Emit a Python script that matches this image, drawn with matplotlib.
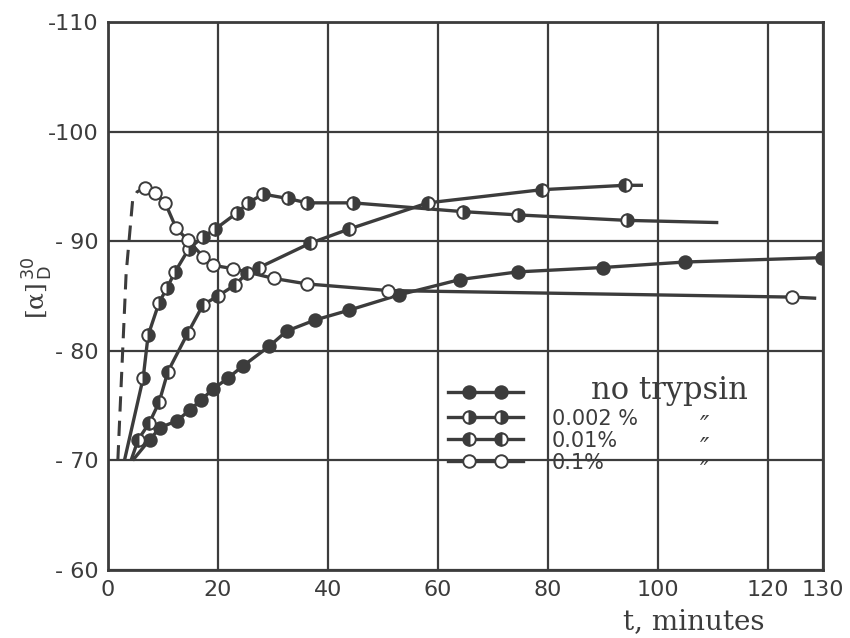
import matplotlib
matplotlib.use("Agg")
import matplotlib.pyplot as plt
from matplotlib.lines import Line2D
from matplotlib.legend_handler import HandlerLine2D, HandlerTuple

# ---- data (t in minutes, rotation magnitude in degrees, negative) ----
t_none = [4.5, 7.6, 9.5, 12.5, 14.9, 16.9, 19.1, 21.8, 24.5, 29.3, 32.5, 37.6, 43.8,
          52.9, 64.0, 74.5, 90.0, 104.9, 129.8]
a_none = [-70, -71.9, -73.0, -73.6, -74.6, -75.5, -76.5, -77.5, -78.6, -80.4, -81.8, -82.8,
          -83.7, -85.1, -86.5, -87.2, -87.6, -88.1, -88.5]

t_002 = [3.0, 6.4, 7.3, 9.3, 10.7, 12.2, 14.7, 17.3, 19.5, 23.5, 25.5, 28.2, 32.7, 36.2,
         44.5, 64.5, 74.5, 94.4, 111.0]
a_002 = [-70, -77.5, -81.4, -84.4, -85.7, -87.2, -89.3, -90.4, -91.1, -92.6, -93.5, -94.3,
         -93.9, -93.5, -93.5, -92.7, -92.4, -91.9, -91.7]

t_001 = [4.2, 5.5, 7.5, 9.3, 10.9, 14.5, 17.3, 20.0, 23.1, 25.3, 27.5, 36.7, 43.8, 58.2,
         78.9, 94.0, 97.3]
a_001 = [-70, -71.9, -73.4, -75.3, -78.1, -81.6, -84.2, -85.0, -86.0, -87.1, -87.6, -89.8,
         -91.1, -93.5, -94.7, -95.1, -95.1]

t_01 = [6.7, 8.5, 10.4, 12.4, 14.5, 17.3, 19.1, 22.7, 30.2, 36.2, 50.9, 124.4, 128.5]
a_01 = [-94.9, -94.4, -93.5, -91.2, -90.1, -88.6, -87.8, -87.5, -86.6, -86.1, -85.5,
        -84.9, -84.8]
# dashed extrapolated start of the 0.1 % curve
t_01_dash = [1.8, 2.5, 3.3, 4.5, 5.3, 6.7]
a_01_dash = [-70, -78, -87, -93.8, -94.5, -94.9]

x_ticks = [0, 20, 40, 60, 80, 100, 120, 130]
y_ticks = [-60, -70, -80, -90, -100, -110]
y_tick_labels = ["- 60", "- 70", "- 80", "- 90", "-100", "-110"]
legend_labels = ["    no trypsin", "0.002 %", "0.01%", "0.1%"]

ink = "#3c3c3c"
ms = 9

fig = plt.figure(figsize=(8.5, 6.38), dpi=100)
ax = fig.add_axes([0.127, 0.1066, 0.841, 0.8589])


def draw(t, a, fill, n_markers=None):
    """Line through the points, markers on the measured ones (first/last are line ends)."""
    ax.plot(t, a, color=ink, lw=2.4, zorder=3, solid_capstyle="butt")
    mt = t[1:-1] if n_markers is None else t[n_markers]
    ma = a[1:-1] if n_markers is None else a[n_markers]
    ax.plot(mt, ma, ls="none", marker="o", ms=ms, mec=ink, mew=1.4,
            mfc=ink, mfcalt="white", fillstyle=fill, zorder=4)


draw(t_none, a_none, "full", n_markers=slice(1, None))
draw(t_002, a_002, "right")
draw(t_001, a_001, "left")
ax.plot(t_01_dash, a_01_dash, color=ink, lw=2.2, ls=(0, (5, 3)), zorder=3)
ax.plot(t_01, a_01, color=ink, lw=2.4, zorder=3)
ax.plot(t_01[:-1], a_01[:-1], ls="none", marker="o", ms=ms, mec=ink, mew=1.4,
        mfc="white", zorder=4)

ax.set_xlim(0, 130)
ax.set_ylim(-60, -110)
ax.set_xticks(x_ticks)
ax.set_yticks(y_ticks)
ax.set_yticklabels(y_tick_labels)
ax.tick_params(length=0, labelsize=16, colors=ink, pad=7)
ax.grid(True, color=ink, lw=1.6)
ax.set_axisbelow(True)
for s in ax.spines.values():
    s.set_color(ink)
    s.set_linewidth(2)

ax.text(0.82, -0.095, "t, minutes", transform=ax.transAxes, ha="center", va="center",
        fontsize=20, family="DejaVu Serif", color=ink)
ax.text(-0.098, 0.515, r"[α]$^{\,30}_{\,\mathrm{D}}$", transform=ax.transAxes,
        rotation=90, ha="center", va="center", fontsize=18, color=ink,
        family="DejaVu Serif")

# legend: full-length line with two markers inset from its ends
fills = ["full", "right", "left", "none"]
handles = []
handler_map = {tuple: HandlerTuple(ndivide=1)}
for f in fills:
    line = Line2D([], [], color=ink, lw=2.4)
    dots = Line2D([], [], ls="none", marker="o", ms=ms, mec=ink, mew=1.4,
                  mfc=ink if f != "none" else "white", mfcalt="white",
                  fillstyle=f if f != "none" else "full")
    handler_map[dots] = HandlerLine2D(numpoints=2, marker_pad=1.05)
    handles.append((line, dots))

leg = ax.legend(handles, legend_labels, loc="upper left", bbox_to_anchor=(0.475, 0.355),
                frameon=False, fontsize=15, handlelength=3.6, handletextpad=1.4,
                labelspacing=0.1, borderpad=0, borderaxespad=0, numpoints=1,
                handler_map=handler_map)
leg.get_texts()[0].set_fontsize(22)
leg.get_texts()[0].set_family("DejaVu Serif")
for t in leg.get_texts():
    t.set_color(ink)

for y in [0.262, 0.222, 0.180]:
    ax.text(0.835, y, "\u2033", transform=ax.transAxes, ha="center", va="center",
            fontsize=18, style="italic", color=ink)

fig.savefig("out.png", dpi=100, facecolor="white")
